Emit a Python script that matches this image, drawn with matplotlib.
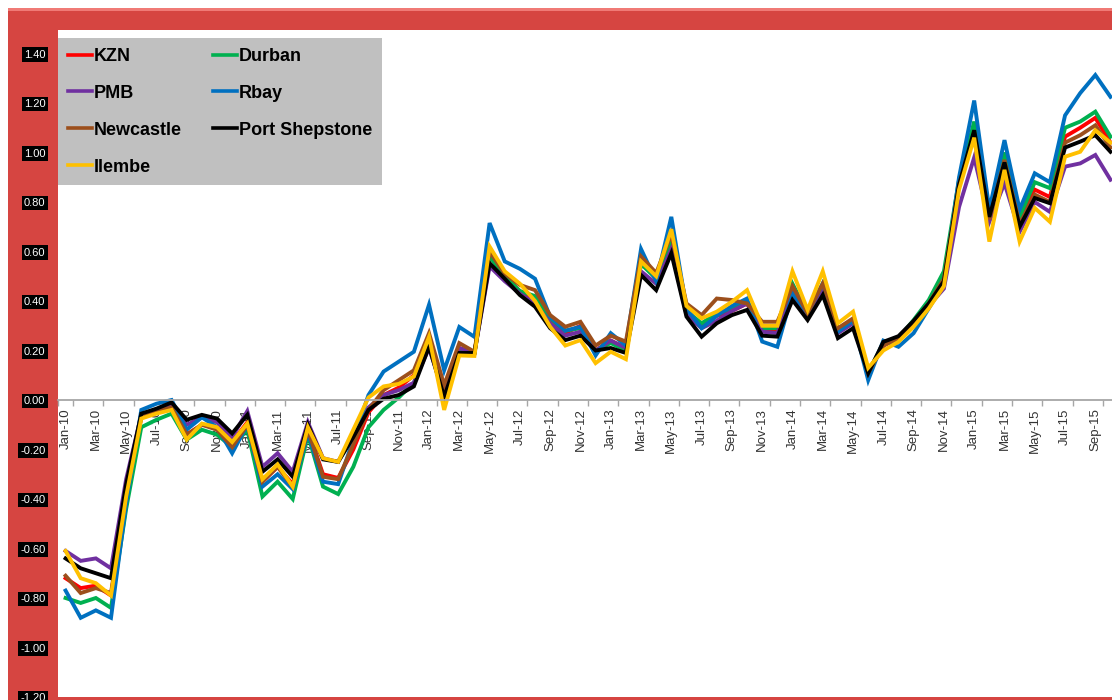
import matplotlib
matplotlib.use("Agg")
import matplotlib.pyplot as plt
from matplotlib.patches import Rectangle

# monthly index values, Jan-10 .. Oct-15
months = [f"{m}-{y:02d}" for y in range(10, 16)
          for m in ["Jan", "Feb", "Mar", "Apr", "May", "Jun",
                    "Jul", "Aug", "Sep", "Oct", "Nov", "Dec"]][:70]

kzn = [-0.72, -0.76, -0.75, -0.79, -0.38, -0.07, -0.04, -0.02, -0.14, -0.10, -0.11, -0.17,
       -0.09, -0.33, -0.27, -0.34, -0.12, -0.30, -0.315, -0.20, -0.05, 0.02, 0.05, 0.10,
       0.25, 0.03, 0.21, 0.19, 0.59, 0.50, 0.44, 0.41, 0.32, 0.27, 0.30, 0.20,
       0.24, 0.21, 0.55, 0.50, 0.646, 0.36, 0.30, 0.34, 0.36, 0.39, 0.28, 0.28,
       0.45, 0.35, 0.46, 0.28, 0.32, 0.11, 0.22, 0.25, 0.31, 0.39, 0.49, 0.88,
       1.10, 0.74, 0.97, 0.74, 0.85, 0.82, 1.064, 1.10, 1.14, 1.04]
durban = [-0.80, -0.82, -0.80, -0.84, -0.44, -0.11, -0.08, -0.055, -0.16, -0.12, -0.14, -0.19,
          -0.12, -0.39, -0.33, -0.40, -0.14, -0.35, -0.38, -0.27, -0.11, -0.04, 0.01, 0.07,
          0.22, 0.02, 0.20, 0.19, 0.58, 0.50, 0.44, 0.42, 0.33, 0.28, 0.29, 0.20,
          0.23, 0.20, 0.55, 0.49, 0.65, 0.36, 0.31, 0.35, 0.37, 0.40, 0.29, 0.29,
          0.47, 0.35, 0.47, 0.28, 0.32, 0.11, 0.23, 0.25, 0.323, 0.404, 0.52, 0.89,
          1.125, 0.76, 1.00, 0.74, 0.88, 0.856, 1.10, 1.125, 1.165, 1.064]
pmb = [-0.61, -0.65, -0.64, -0.68, -0.32, -0.06, -0.04, -0.02, -0.10, -0.07, -0.09, -0.15,
       -0.045, -0.27, -0.215, -0.29, -0.09, -0.235, -0.25, -0.14, -0.03, 0.02, 0.04, 0.07,
       0.21, 0.02, 0.21, 0.19, 0.54, 0.48, 0.43, 0.39, 0.31, 0.26, 0.276, 0.20,
       0.24, 0.21, 0.52, 0.47, 0.61, 0.345, 0.29, 0.32, 0.36, 0.39, 0.276, 0.27,
       0.43, 0.34, 0.44, 0.27, 0.31, 0.11, 0.22, 0.25, 0.30, 0.38, 0.45, 0.78,
       0.98, 0.72, 0.876, 0.68, 0.80, 0.76, 0.943, 0.956, 0.99, 0.89]
rbay = [-0.77, -0.88, -0.85, -0.88, -0.42, -0.04, -0.015, 0.0, -0.12, -0.07, -0.11, -0.215,
        -0.10, -0.35, -0.30, -0.36, -0.13, -0.33, -0.34, -0.16, 0.02, 0.115, 0.155, 0.195,
        0.385, 0.12, 0.295, 0.255, 0.715, 0.56, 0.53, 0.49, 0.336, 0.28, 0.296, 0.18,
        0.27, 0.22, 0.61, 0.48, 0.74, 0.37, 0.29, 0.34, 0.38, 0.41, 0.236, 0.215,
        0.43, 0.35, 0.47, 0.276, 0.32, 0.08, 0.24, 0.215, 0.27, 0.37, 0.47, 0.90,
        1.21, 0.77, 1.05, 0.77, 0.916, 0.88, 1.15, 1.24, 1.313, 1.225]
newcastle = [-0.71, -0.78, -0.76, -0.78, -0.38, -0.07, -0.045, -0.03, -0.14, -0.10, -0.12, -0.19,
             -0.10, -0.33, -0.27, -0.35, -0.12, -0.31, -0.32, -0.18, -0.04, 0.04, 0.08, 0.12,
             0.27, 0.06, 0.23, 0.195, 0.60, 0.51, 0.465, 0.444, 0.343, 0.296, 0.316, 0.22,
             0.26, 0.236, 0.58, 0.513, 0.67, 0.39, 0.343, 0.41, 0.404, 0.39, 0.316, 0.316,
             0.46, 0.35, 0.47, 0.29, 0.33, 0.11, 0.22, 0.25, 0.31, 0.39, 0.49, 0.87,
             1.08, 0.73, 0.97, 0.71, 0.83, 0.80, 1.04, 1.07, 1.11, 1.02]
port_shepstone = [-0.64, -0.68, -0.70, -0.72, -0.34, -0.055, -0.035, -0.01, -0.08, -0.06, -0.075, -0.135,
                  -0.06, -0.29, -0.24, -0.31, -0.10, -0.24, -0.25, -0.15, -0.04, 0.005, 0.02, 0.055,
                  0.215, 0.013, 0.19, 0.19, 0.553, 0.49, 0.424, 0.377, 0.29, 0.242, 0.26, 0.20,
                  0.21, 0.19, 0.505, 0.444, 0.593, 0.337, 0.256, 0.31, 0.343, 0.364, 0.26, 0.256,
                  0.404, 0.323, 0.424, 0.25, 0.29, 0.108, 0.235, 0.258, 0.32, 0.39, 0.48, 0.87,
                  1.09, 0.74, 0.96, 0.70, 0.816, 0.795, 1.02, 1.044, 1.07, 1.003]
ilembe = [-0.61, -0.72, -0.74, -0.79, -0.39, -0.075, -0.055, -0.04, -0.16, -0.095, -0.11, -0.17,
          -0.095, -0.32, -0.26, -0.35, -0.11, -0.235, -0.25, -0.12, 0.01, 0.055, 0.065, 0.095,
          0.255, -0.04, 0.18, 0.178, 0.62, 0.52, 0.47, 0.40, 0.296, 0.22, 0.242, 0.149,
          0.195, 0.165, 0.56, 0.50, 0.69, 0.38, 0.33, 0.357, 0.397, 0.444, 0.30, 0.30,
          0.52, 0.364, 0.52, 0.31, 0.357, 0.13, 0.20, 0.235, 0.296, 0.37, 0.46, 0.85,
          1.06, 0.64, 0.93, 0.64, 0.776, 0.72, 0.983, 1.003, 1.09, 1.04]

series = [
    ("KZN", kzn, "#ff0000"),
    ("Durban", durban, "#00b050"),
    ("PMB", pmb, "#7030a0"),
    ("Rbay", rbay, "#0070c0"),
    ("Newcastle", newcastle, "#9c4f1c"),
    ("Port Shepstone", port_shepstone, "#000000"),
    ("Ilembe", ilembe, "#ffc000"),
]

W, H = 1112, 700
fig = plt.figure(figsize=(W / 100, H / 100), dpi=100, facecolor="white")

# red chart frame, kept behind the axes
red = "#d64541"
fig.patches.append(Rectangle((8 / W, 0), 1, 1 - 8 / H, transform=fig.transFigure,
                             facecolor=red, edgecolor="none", zorder=-2))
fig.patches.append(Rectangle((8 / W, 1 - 11 / H), 1, 3 / H, transform=fig.transFigure,
                             facecolor="#f07a76", edgecolor="none", zorder=-1))

ax = fig.add_axes([58 / W, 3 / H, 1 - 58 / W, (697 - 30) / H])
ax.set_facecolor("white")

x = list(range(len(months)))
handles = {}
for name, vals, color in series:
    ln, = ax.plot(x, vals, color=color, lw=2.8, label=name, solid_joinstyle="miter")
    handles[name] = ln

ax.set_xlim(-0.5, 69.1)
ax.set_ylim(-1.2, 1.495)

# x axis sits on zero
for s in ["top", "right", "left"]:
    ax.spines[s].set_visible(False)
ax.spines["bottom"].set_position(("data", 0))
ax.spines["bottom"].set_color("#a6a6a6")
ax.spines["bottom"].set_linewidth(1.3)
ax.set_xticks([i - 0.5 for i in range(1, 70, 2)] + [-0.5])
ax.set_xticklabels([])
ax.tick_params(axis="x", which="major", direction="out", length=4, color="#a6a6a6", width=1)
ax.set_xticks(range(0, 70, 2), minor=True)
ax.set_xticklabels(months[::2], minor=True, rotation=90, fontsize=9.5,
                   color="#333333", family=["Liberation Sans", "DejaVu Sans"])
ax.tick_params(axis="x", which="minor", length=0, pad=6)

yt = [round(-1.2 + 0.2 * k, 2) for k in range(14)]
ax.set_yticks(yt)
ax.set_yticklabels([f"{v:.2f}".replace("-0.00", "0.00") for v in yt],
                   fontsize=8, color="white", family=["Liberation Sans", "DejaVu Sans"])
ax.tick_params(axis="y", length=0, pad=9)
for lbl in ax.get_yticklabels():
    lbl.set_bbox(dict(facecolor="black", edgecolor="none", pad=1.5))

order = ["KZN", "PMB", "Newcastle", "Ilembe", "Durban", "Rbay", "Port Shepstone"]
leg = fig.legend([handles[n] for n in order], order, ncol=2, loc="upper left",
                 bbox_to_anchor=(58 / W, 1 - 38 / H), borderaxespad=0,
                 frameon=True, fancybox=False, facecolor="#c0c0c0", edgecolor="none",
                 framealpha=1, handlelength=1.35, handletextpad=0.1, columnspacing=1.7,
                 labelspacing=1.1, borderpad=0.55,
                 prop={"family": ["Liberation Sans", "DejaVu Sans"],
                       "weight": "bold", "size": 13})
for h in leg.legend_handles:
    h.set_linewidth(2.6)

fig.savefig("out.png", dpi=100, facecolor="white")
